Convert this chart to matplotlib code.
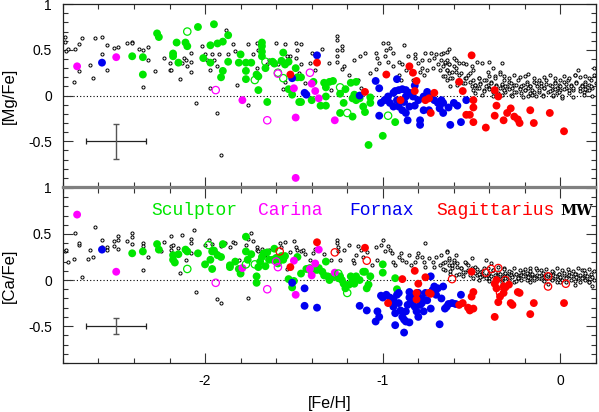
import matplotlib
matplotlib.use('Agg')
import matplotlib.pyplot as plt
from matplotlib.ticker import MultipleLocator, FixedLocator, FixedFormatter

plt.rcParams['font.family'] = ['Liberation Sans', 'DejaVu Sans']
plt.rcParams['axes.unicode_minus'] = False

# ---------------- [Mg/Fe] panel : ([Fe/H], [Mg/Fe]) ----------------
scl_mg = [(-2.27, 0.68), (-2.26, 0.64), (-2.41, 0.43), (-2.35, 0.42), (-2.35, 0.23), (-2.18, 0.46),
          (-2.18, 0.43), (-2.16, 0.58), (-2.11, 0.58), (-2.10, 0.54), (-2.15, 0.36), (-2.04, 0.75),
          (-1.95, 0.78), (-1.97, 0.55), (-1.93, 0.57), (-1.90, 0.59), (-1.87, 0.66), (-2.01, 0.41),
          (-1.97, 0.36), (-1.90, 0.27), (-1.91, 0.20), (-1.87, 0.37), (-1.80, 0.45), (-1.81, 0.36),
          (-1.77, 0.36), (-1.74, 0.36), (-1.77, 0.27), (-1.77, 0.18), (-1.71, 0.23), (-1.70, 0.21),
          (-1.68, 0.58), (-1.68, 0.54), (-1.68, 0.48), (-1.68, 0.43), (-1.66, 0.30), (-1.70, 0.06),
          (-1.65, -0.07), (-1.62, 0.37), (-1.61, 0.35), (-1.57, 0.38), (-1.56, 0.47), (-1.55, 0.34),
          (-1.53, 0.37), (-1.51, 0.01), (-1.53, 0.07), (-1.49, 0.30), (-1.48, 0.20), (-1.47, -0.07),
          (-1.46, 0.20), (-1.39, 0.15), (-1.46, -0.07), (-1.40, -0.05), (-1.35, -0.11), (-1.32, -0.11),
          (-1.32, -0.01), (-1.33, 0.14), (-1.30, 0.15), (-1.28, 0.16), (-1.32, 0.09), (-1.24, 0.02),
          (-1.22, -0.08), (-1.21, 0.07), (-1.18, 0.14), (-1.15, 0.15), (-1.16, 0.01), (-1.17, -0.03),
          (-1.15, -0.05), (-1.13, -0.03), (-1.11, -0.12), (-1.10, -0.18), (-1.07, -0.02), (-1.07, -0.08),
          (-1.24, -0.19), (-1.17, -0.23), (-1.08, -0.54), (-1.00, -0.44), (-0.93, -0.29)]
scl_mg_open = [(-2.10, 0.70), (-1.66, 0.37), (-1.72, 0.17), (-1.56, 0.19), (-1.59, 0.25),
               (-1.24, 0.09), (-1.20, -0.19), (-0.97, -0.22)]
car_mg = [(-2.72, 0.32), (-2.50, 0.42), (-1.79, -0.05), (-1.50, 0.08), (-1.49, -0.24), (-1.49, -0.90),
          (-1.40, 0.13), (-1.38, 0.05), (-1.36, -0.03), (-1.27, -0.27)]
car_mg_open = [(-1.94, 0.06), (-1.65, -0.27), (-1.59, 0.24), (-1.41, 0.25)]
fnx_mg = [(-2.58, 0.36), (-1.51, 0.19), (-1.37, 0.44), (-1.44, 0.03), (-1.43, 0.01), (-1.13, 0.00),
          (-1.04, 0.16), (-1.02, 0.08), (-0.92, 0.18), (-1.02, -0.22), (-1.01, -0.08), (-0.99, -0.05),
          (-0.97, -0.01), (-0.94, 0.03), (-0.93, 0.05), (-0.91, 0.06), (-0.89, 0.07), (-0.87, 0.06),
          (-0.85, 0.03), (-0.83, -0.01), (-0.82, 0.11), (-0.80, -0.05), (-0.92, -0.05), (-0.91, -0.12),
          (-0.89, -0.16), (-0.87, -0.19), (-0.86, -0.27), (-0.85, -0.12), (-0.82, -0.11), (-0.79, -0.27),
          (-0.79, -0.32), (-0.77, -0.16), (-0.77, -0.01), (-0.75, 0.04), (-0.73, -0.01), (-0.71, -0.05),
          (-0.69, -0.08), (-0.67, -0.05), (-0.66, -0.08), (-0.68, -0.14), (-0.66, -0.19), (-0.63, -0.13),
          (-0.62, -0.32), (-0.60, -0.08), (-0.58, -0.11), (-0.56, -0.29), (-0.53, -0.05), (-0.74, -0.16),
          (-0.94, -0.12), (-0.96, -0.08), (-0.88, -0.07), (-0.87, -0.01)]
sgr_mg = [(-1.52, 0.23), (-1.37, 0.36), (-1.10, 0.04), (-0.98, 0.23), (-0.90, -0.05), (-0.85, 0.32),
          (-0.83, 0.25), (-0.81, 0.16), (-0.82, 0.05), (-0.76, -0.05), (-0.74, -0.03), (-0.73, -0.19),
          (-0.71, 0.03), (-0.57, 0.15), (-0.55, 0.05), (-0.50, 0.44), (-0.53, -0.21), (-0.51, -0.21),
          (-0.49, -0.29), (-0.49, -0.05), (-0.49, -0.13), (-0.42, -0.35), (-0.37, 0.06), (-0.35, -0.01),
          (-0.36, -0.11), (-0.37, -0.22), (-0.32, -0.27), (-0.30, -0.19), (-0.28, -0.14), (-0.26, -0.23),
          (-0.24, -0.26), (-0.23, -0.30), (-0.17, -0.16), (-0.15, -0.30), (-0.06, -0.19), (0.02, -0.39)]
mw_mg = [(-2.79, 0.64), (-2.79, 0.59), (-2.78, 0.49), (-2.77, 0.51), (-2.73, 0.51), (-2.71, 0.27),
         (-2.74, 0.15), (-2.71, 0.56), (-2.69, 0.63), (-2.65, 0.33), (-2.63, 0.19), (-2.62, 0.63),
         (-2.58, 0.64), (-2.58, 0.46), (-2.55, 0.55), (-2.55, 0.28), (-2.51, 0.52), (-2.49, 0.53),
         (-2.44, 0.58), (-2.41, 0.59), (-2.41, 0.57), (-2.37, 0.51), (-2.35, 0.50), (-2.35, 0.09),
         (-2.32, 0.53), (-2.32, 0.39), (-2.28, 0.27), (-2.23, 0.41), (-2.20, 0.36), (-2.20, 0.28),
         (-2.19, 0.28), (-2.17, 0.58), (-2.14, 0.18), (-2.13, 0.36), (-2.12, 0.41), (-2.11, 0.39),
         (-2.10, 0.32), (-2.08, 0.26), (-2.08, 0.37), (-2.08, 0.47), (-2.05, -0.08), (-2.02, 0.54),
         (-2.00, 0.46), (-1.99, 0.39), (-1.96, 0.46), (-1.97, 0.28), (-1.97, 0.08), (-1.95, 0.39),
         (-1.93, 0.32), (-1.93, -0.19), (-1.91, -0.65), (-1.92, 0.46), (-1.88, 0.72), (-1.87, 0.45),
         (-1.84, 0.56), (-1.83, 0.49), (-1.82, 0.12), (-1.76, -0.10), (-1.76, 0.56), (-1.73, 0.45),
         (-1.71, 0.58), (-1.71, 0.30), (-1.70, 0.50), (-1.65, 0.34), (-1.64, 0.39), (-1.60, 0.58),
         (-1.59, 0.34), (-1.56, 0.07), (-1.55, 0.56), (-1.52, 0.43), (-1.49, 0.58), (-1.49, 0.41),
         (-1.48, 0.50), (-1.47, 0.25), (-1.55, 0.15), (-1.54, 0.43),
         (-1.46, 0.56), (-1.46, 0.34), (-1.44, 0.14), (-1.41, 0.36), (-1.40, 0.47), (-1.38, 0.28),
         (-1.34, 0.51), (-1.30, 0.36), (-1.29, 0.06), (-1.26, 0.65), (-1.26, 0.61), (-1.26, 0.50),
         (-1.26, 0.43), (-1.26, 0.37), (-1.23, 0.54), (-1.23, 0.50), (-1.23, 0.29), (-1.22, 0.32),
         (-1.19, 0.23), (-1.16, 0.39), (-1.14, 0.17), (-1.13, 0.43), (-1.12, 0.08), (-1.10, 0.47),
         (-1.07, 0.25), (-1.04, 0.47), (-1.04, 0.29), (-1.03, 0.41), (-1.02, 0.36), (-1.00, 0.58),
         (-0.99, 0.43), (-0.98, 0.50), (-0.97, 0.57), (-0.97, 0.37), (-0.96, 0.52), (-0.94, 0.47),
         (-0.94, 0.32), (-0.91, 0.37), (-0.91, 0.23), (-0.90, 0.17), (-0.89, 0.34), (-0.88, 0.55),
         (-0.87, 0.28), (-0.86, 0.43), (-0.85, 0.32), (-0.84, 0.25), (-0.83, 0.17), (-0.82, 0.41),
         (-0.82, 0.45), (-0.80, 0.36), (-0.79, 0.26), (-0.78, 0.39), (-0.78, 0.30), (-0.77, 0.23),
         (-0.76, 0.47), (-0.75, 0.28), (-0.74, 0.39), (-0.73, 0.47), (-0.72, 0.30), (-0.71, 0.41),
         (-0.70, 0.45), (-0.69, 0.34), (-0.68, 0.28), (-0.67, 0.39), (-0.66, 0.21), (-0.66, 0.47),
         (-0.65, 0.36), (-0.64, 0.48), (-0.64, 0.28), (-0.64, 0.17), (-0.63, 0.51), (-0.63, 0.34),
         (-0.63, 0.25), (-0.62, 0.10), (-0.61, 0.19), (-0.60, 0.32), (-0.59, 0.39), (-0.59, 0.26),
         (-0.58, 0.15), (-0.57, 0.36), (-0.56, 0.25), (-0.55, 0.14), (-0.54, 0.19), (-0.53, 0.34),
         (-0.52, 0.23), (-0.51, 0.15), (-0.50, 0.10), (-0.49, 0.17), (-0.49, 0.28), (-0.48, 0.03),
         (-0.48, 0.12), (-0.47, 0.37), (-0.47, 0.08), (-0.46, 0.19), (-0.45, 0.14), (-0.44, 0.36),
         (-0.43, 0.06), (-0.42, 0.17), (-0.41, 0.26), (-0.41, 0.12), (-0.40, 0.37), (-0.40, 0.08),
         (-0.39, 0.15), (-0.38, 0.04), (-0.38, 0.30), (-0.37, 0.21), (-0.36, 0.12), (-0.35, 0.03),
         (-0.34, 0.26), (-0.33, 0.36), (-0.33, 0.12), (-0.32, 0.06), (-0.32, 0.17), (-0.31, 0.04),
         (-0.30, 0.10), (-0.29, 0.15), (-0.28, 0.01), (-0.27, 0.08), (-0.26, 0.12), (-0.25, 0.04),
         (-0.24, 0.17), (-0.23, 0.08), (-0.22, 0.03), (-0.21, 0.12), (-0.20, 0.06), (-0.19, 0.15),
         (-0.18, -0.01), (-0.17, 0.10), (-0.17, 0.03), (-0.16, 0.06), (-0.15, 0.15), (-0.14, -0.01),
         (-0.13, 0.10), (-0.12, 0.04), (-0.11, 0.14), (-0.10, 0.01), (-0.09, 0.08), (-0.08, 0.17),
         (-0.07, 0.04), (-0.06, 0.12), (-0.05, 0.06), (-0.04, -0.01), (-0.03, 0.15), (-0.02, 0.08),
         (-0.02, 0.03), (-0.01, 0.12), (0.00, 0.06), (0.01, -0.03), (0.02, 0.15), (0.03, 0.08),
         (0.04, 0.17), (0.05, 0.03), (0.06, 0.12), (0.07, 0.06), (0.08, 0.23), (0.09, 0.15),
         (0.10, 0.28), (0.11, 0.08), (0.12, 0.12), (0.13, 0.04), (0.14, 0.15), (0.14, 0.10),
         (0.15, 0.06), (0.16, 0.12), (0.17, 0.17), (0.18, 0.08), (0.19, 0.30), (0.20, 0.14),
         # denser band of disc stars around solar metallicity
         (-0.46, 0.19), (-0.43, 0.17), (-0.40, 0.21), (-0.37, 0.19), (-0.34, 0.24), (-0.32, 0.21),
         (-0.29, 0.19), (-0.26, 0.22), (-0.23, 0.20), (-0.20, 0.21), (-0.18, 0.24), (-0.15, 0.19),
         (-0.12, 0.17), (-0.09, 0.20), (-0.06, 0.22), (-0.03, 0.19), (0.00, 0.17), (0.02, 0.21),
         (0.05, 0.19), (0.08, 0.22), (0.11, 0.20), (0.14, 0.21), (0.16, 0.19), (0.19, 0.22),
         (-0.48, 0.12), (-0.45, 0.13), (-0.42, 0.10), (-0.39, 0.14), (-0.36, 0.11), (-0.33, 0.13),
         (-0.31, 0.10), (-0.28, 0.14), (-0.25, 0.12), (-0.22, 0.10), (-0.19, 0.13), (-0.17, 0.11),
         (-0.14, 0.14), (-0.11, 0.10), (-0.08, 0.13), (-0.05, 0.11), (-0.03, 0.14), (0.00, 0.10),
         (0.03, 0.13), (0.06, 0.11), (0.09, 0.14), (0.12, 0.10), (0.14, 0.13), (0.17, 0.11),
         (-0.49, 0.06), (-0.46, 0.08), (-0.43, 0.05), (-0.40, 0.07), (-0.37, 0.04), (-0.34, 0.08),
         (-0.32, 0.06), (-0.29, 0.07), (-0.26, 0.04), (-0.23, 0.07), (-0.20, 0.06), (-0.18, 0.08),
         (-0.15, 0.04), (-0.12, 0.06), (-0.09, 0.08), (-0.06, 0.05), (-0.03, 0.07), (-0.01, 0.04),
         (0.02, 0.07), (0.05, 0.06), (0.07, 0.08), (0.11, 0.05), (0.14, 0.07), (0.16, 0.06),
         (-0.44, 0.01), (-0.38, -0.01), (-0.33, 0.01), (-0.27, 0.00), (-0.21, -0.02), (-0.16, 0.01),
         (-0.10, -0.01), (-0.04, 0.01), (0.01, 0.00), (0.07, -0.02), (0.13, 0.01), (0.18, -0.01),
         (-0.67, 0.45), (-0.65, 0.37), (-0.64, 0.39), (-0.66, 0.32), (-0.64, 0.28), (-0.63, 0.34),
         (-0.61, 0.26), (-0.59, 0.30), (-0.60, 0.41), (-0.57, 0.23), (-0.55, 0.36), (-0.53, 0.19),
         (-0.51, 0.25), (-0.54, 0.14), (-0.62, 0.19), (-0.65, 0.21), (-0.58, 0.12), (-0.50, 0.32)]

# ---------------- [Ca/Fe] panel : ([Fe/H], [Ca/Fe]) ----------------
scl_ca = [(-2.41, 0.29), (-2.35, 0.31), (-2.27, 0.39), (-2.26, 0.33), (-2.18, 0.27), (-2.18, 0.22),
          (-2.17, 0.19), (-2.15, 0.28), (-2.11, 0.33), (-2.10, 0.31), (-2.04, 0.29), (-2.00, 0.17),
          (-1.97, 0.22), (-1.96, 0.12), (-1.96, 0.31), (-1.95, 0.32), (-1.93, 0.27), (-1.91, 0.25),
          (-1.90, 0.39), (-1.86, 0.14), (-1.86, 0.16), (-1.83, 0.20), (-1.81, 0.12), (-1.80, 0.07),
          (-1.77, 0.47), (-1.77, 0.31), (-1.76, 0.22), (-1.74, 0.28), (-1.71, 0.04), (-1.71, -0.03),
          (-1.70, 0.14), (-1.69, 0.20), (-1.68, 0.25), (-1.67, 0.29), (-1.66, 0.15), (-1.65, 0.30),
          (-1.64, 0.22), (-1.62, 0.22), (-1.61, 0.34), (-1.60, 0.24), (-1.59, 0.18), (-1.57, 0.26),
          (-1.56, 0.22), (-1.55, 0.26), (-1.53, 0.01), (-1.51, -0.08), (-1.50, -0.01), (-1.48, 0.25),
          (-1.46, 0.07), (-1.43, 0.12), (-1.41, 0.13), (-1.40, 0.08), (-1.37, 0.11), (-1.36, 0.13),
          (-1.34, 0.09), (-1.33, 0.05), (-1.32, 0.20), (-1.31, 0.04), (-1.30, 0.00), (-1.28, 0.04),
          (-1.27, 0.07), (-1.25, 0.02), (-1.24, 0.04), (-1.23, 0.00), (-1.22, -0.04), (-1.21, -0.09),
          (-1.19, -0.05), (-1.18, 0.04), (-1.17, 0.00), (-1.16, -0.04), (-1.15, 0.04), (-1.13, 0.00),
          (-1.11, 0.09), (-1.10, 0.09), (-1.09, -0.09), (-1.08, -0.05), (-1.07, 0.04), (-1.00, 0.17),
          (-1.00, 0.08), (-0.93, 0.02), (-0.92, -0.10)]
scl_ca_open = [(-2.10, 0.12), (-1.98, 0.38), (-1.77, 0.17), (-1.72, 0.17), (-1.20, -0.14), (-1.25, 0.07)]
car_ca = [(-2.72, 0.71), (-2.50, 0.09), (-1.79, 0.13), (-1.50, 0.21), (-1.49, -0.16), (-1.41, 0.12),
          (-1.40, 0.05), (-1.38, 0.18), (-1.36, 0.33), (-1.27, 0.08)]
car_ca_open = [(-1.94, -0.03), (-1.65, -0.10), (-1.60, 0.20), (-1.59, 0.14)]
fnx_ca = [(-2.58, 0.33), (-1.51, -0.03), (-1.44, -0.09), (-1.44, -0.28), (-1.37, -0.30), (-1.13, -0.28),
          (-1.09, -0.33), (-1.03, -0.34), (-1.02, -0.40), (-1.04, -0.45), (-1.01, -0.17), (-1.00, -0.19),
          (-0.98, -0.16), (-0.96, -0.19), (-0.95, -0.25), (-0.94, -0.29), (-0.94, -0.21), (-0.93, -0.36),
          (-0.92, -0.16), (-0.91, -0.25), (-0.90, -0.33), (-0.89, -0.40), (-0.88, -0.43), (-0.87, -0.34),
          (-0.86, -0.27), (-0.85, -0.19), (-0.84, -0.24), (-0.83, -0.16), (-0.82, -0.29), (-0.81, -0.34),
          (-0.80, -0.40), (-0.79, -0.27), (-0.78, -0.20), (-0.78, -0.25), (-0.77, -0.34), (-0.76, -0.14),
          (-0.75, -0.22), (-0.73, -0.31), (-0.72, -0.11), (-0.71, -0.07), (-0.70, -0.16), (-0.69, -0.09),
          (-0.68, -0.48), (-0.67, -0.20), (-0.66, -0.07), (-0.65, -0.31), (-0.64, -0.29), (-0.63, -0.26),
          (-0.61, -0.25), (-0.59, -0.26), (-0.56, -0.16), (-0.93, -0.49), (-0.88, -0.57), (-0.87, -0.45),
          (-0.85, -0.46), (-0.73, 0.04), (-0.91, -0.14), (-0.85, -0.13), (-0.80, -0.14)]
sgr_ca = [(-1.52, 0.14), (-1.37, 0.41), (-1.10, 0.35), (-0.97, -0.25), (-0.89, 0.01), (-0.82, 0.10),
          (-0.81, -0.14), (-0.80, -0.04), (-0.81, -0.21), (-0.76, 0.03), (-0.74, -0.14), (-0.73, -0.15),
          (-0.55, -0.25), (-0.52, -0.30), (-0.51, -0.33), (-0.50, -0.18), (-0.49, -0.13), (-0.49, -0.31),
          (-0.50, 0.09), (-0.57, -0.27), (-0.37, -0.04), (-0.37, -0.40), (-0.36, 0.00), (-0.35, -0.24),
          (-0.34, -0.18), (-0.32, -0.07), (-0.32, -0.14), (-0.31, -0.08), (-0.29, -0.05), (-0.28, -0.25),
          (-0.27, -0.27), (-0.24, -0.13), (-0.23, -0.14), (-0.17, -0.37), (-0.15, -0.25), (0.02, -0.25),
          (-0.36, -0.09)]
sgr_ca_open = [(-1.58, 0.31), (-1.27, 0.30), (-1.09, 0.21), (-0.61, 0.01), (-0.42, 0.08), (-0.39, 0.12),
               (-0.35, 0.13), (-0.31, 0.00), (-0.34, -0.14), (-0.07, 0.04), (-0.07, -0.07), (0.03, -0.04)]
mw_ca = [(-2.79, 0.32), (-2.78, 0.33), (-2.77, 0.20), (-2.74, 0.23), (-2.73, 0.51), (-2.71, 0.38),
         (-2.71, 0.40), (-2.69, 0.03), (-2.66, 0.23), (-2.65, 0.33), (-2.63, 0.25), (-2.62, 0.58),
         (-2.58, 0.43), (-2.58, 0.36), (-2.55, 0.36), (-2.55, 0.33), (-2.51, 0.42), (-2.51, 0.37),
         (-2.49, 0.48), (-2.49, 0.43), (-2.49, 0.34), (-2.44, 0.42), (-2.41, 0.51), (-2.41, 0.47),
         (-2.41, 0.39), (-2.35, 0.40), (-2.35, 0.37), (-2.35, 0.11), (-2.32, 0.25), (-2.25, 0.32),
         (-2.23, 0.41), (-2.19, 0.48), (-2.19, 0.37), (-2.19, 0.33), (-2.18, 0.38), (-2.15, 0.35),
         (-2.14, 0.08), (-2.13, 0.49), (-2.11, 0.22), (-2.10, 0.33), (-2.08, 0.45), (-2.08, 0.29),
         (-2.08, 0.40), (-2.06, 0.54), (-2.05, -0.13), (-2.00, 0.38), (-1.98, 0.43), (-1.96, 0.39),
         (-1.95, 0.33), (-1.94, 0.30), (-1.93, -0.21), (-1.91, -0.25), (-1.91, 0.37), (-1.89, 0.40),
         (-1.86, 0.36), (-1.84, 0.41), (-1.83, 0.40), (-1.81, 0.22), (-1.77, 0.38), (-1.76, -0.19),
         (-1.76, 0.44), (-1.74, 0.51), (-1.73, 0.42), (-1.71, 0.36), (-1.71, 0.33), (-1.70, 0.31),
         (-1.68, 0.34), (-1.66, 0.27), (-1.64, 0.33), (-1.61, 0.24), (-1.58, 0.40), (-1.57, 0.36),
         (-1.55, 0.41), (-1.54, 0.12), (-1.52, 0.30), (-1.50, 0.42), (-1.49, 0.36), (-1.48, 0.33),
         (-1.46, 0.31), (-1.45, 0.33), (-1.44, 0.28), (-1.41, 0.22), (-1.39, 0.29), (-1.38, 0.34),
         (-1.33, 0.28), (-1.29, 0.22), (-1.26, 0.43), (-1.26, 0.40), (-1.25, 0.36), (-1.25, 0.31),
         (-1.24, 0.22), (-1.22, 0.33), (-1.19, 0.38), (-1.17, 0.22), (-1.16, 0.18), (-1.15, 0.27),
         (-1.14, 0.37), (-1.12, 0.33), (-1.11, 0.25), (-1.09, 0.30), (-1.06, 0.16), (-1.04, 0.36),
         (-1.03, 0.22), (-1.01, 0.38), (-1.00, 0.43), (-0.99, 0.31), (-0.97, 0.37), (-0.96, 0.33),
         (-0.95, 0.29), (-0.94, 0.20), (-0.93, 0.16), (-0.91, 0.25), (-0.90, 0.29), (-0.89, 0.22),
         (-0.87, 0.20), (-0.85, 0.27), (-0.84, 0.16), (-0.82, 0.20), (-0.81, 0.25), (-0.80, 0.29),
         (-0.78, 0.25), (-0.77, 0.20), (-0.76, 0.40), (-0.76, 0.14), (-0.74, 0.24), (-0.72, 0.20),
         (-0.71, 0.14), (-0.70, 0.25), (-0.68, 0.16), (-0.66, 0.18), (-0.65, 0.11), (-0.64, 0.32),
         (-0.63, 0.22), (-0.63, 0.16), (-0.62, 0.07), (-0.61, 0.13), (-0.60, 0.20), (-0.59, 0.05),
         (-0.58, 0.14), (-0.57, 0.07), (-0.56, 0.13), (-0.55, 0.04), (-0.54, 0.09), (-0.53, 0.18),
         (-0.52, 0.11), (-0.51, 0.05), (-0.50, 0.13), (-0.49, 0.02), (-0.48, 0.08), (-0.48, 0.14),
         (-0.47, 0.05), (-0.46, 0.00), (-0.45, 0.09), (-0.44, 0.04), (-0.43, 0.13), (-0.42, 0.22),
         (-0.41, 0.05), (-0.40, 0.02), (-0.39, 0.18), (-0.38, 0.11), (-0.37, 0.00), (-0.36, 0.05),
         (-0.35, 0.09), (-0.34, 0.04), (-0.33, 0.00), (-0.32, 0.13), (-0.32, 0.07), (-0.31, 0.02),
         (-0.30, 0.05), (-0.29, 0.00), (-0.28, 0.09), (-0.27, 0.04), (-0.26, -0.02), (-0.25, 0.07),
         (-0.24, 0.02), (-0.23, 0.05), (-0.22, 0.00), (-0.21, 0.09), (-0.20, 0.04), (-0.19, 0.00),
         (-0.18, 0.07), (-0.17, 0.02), (-0.17, 0.13), (-0.16, 0.05), (-0.15, 0.00), (-0.14, 0.04),
         (-0.13, 0.11), (-0.12, 0.02), (-0.11, 0.05), (-0.10, 0.00), (-0.09, 0.07), (-0.08, 0.02),
         (-0.07, -0.04), (-0.06, 0.05), (-0.05, 0.00), (-0.04, 0.09), (-0.03, 0.02), (-0.02, 0.04),
         (-0.02, -0.02), (-0.01, 0.07), (0.00, 0.02), (0.01, 0.00), (0.02, 0.05), (0.03, -0.02),
         (0.04, 0.04), (0.05, 0.09), (0.06, 0.00), (0.07, 0.04), (0.08, -0.05), (0.09, 0.07),
         (0.10, 0.02), (0.11, -0.02), (0.12, 0.11), (0.13, 0.04), (0.14, 0.00), (0.14, 0.05),
         (0.15, 0.02), (0.16, -0.02), (0.17, 0.04), (0.18, -0.07), (0.19, 0.00),
         # denser band of disc stars around solar metallicity
         (-0.67, 0.27), (-0.65, 0.20), (-0.63, 0.24), (-0.61, 0.16), (-0.60, 0.22), (-0.58, 0.18),
         (-0.56, 0.13), (-0.54, 0.20), (-0.52, 0.16), (-0.66, 0.12), (-0.62, 0.10), (-0.55, 0.09),
         (-0.50, 0.24), (-0.64, 0.30), (-0.59, 0.27),
         (-0.47, 0.12), (-0.44, 0.10), (-0.41, 0.13), (-0.38, 0.11), (-0.35, 0.14), (-0.32, 0.12),
         (-0.29, 0.10), (-0.26, 0.13), (-0.23, 0.11), (-0.20, 0.12), (-0.17, 0.10), (-0.14, 0.13),
         (-0.11, 0.11), (-0.08, 0.12), (-0.05, 0.10), (-0.02, 0.13), (0.01, 0.11), (0.04, 0.12),
         (0.07, 0.10), (0.10, 0.13), (0.13, 0.11), (0.16, 0.12), (0.19, 0.10),
         (-0.46, 0.07), (-0.43, 0.06), (-0.40, 0.08), (-0.37, 0.06), (-0.34, 0.07), (-0.31, 0.08),
         (-0.28, 0.06), (-0.25, 0.07), (-0.22, 0.06), (-0.19, 0.08), (-0.16, 0.07), (-0.13, 0.06),
         (-0.10, 0.08), (-0.07, 0.07), (-0.04, 0.06), (-0.01, 0.07), (0.02, 0.08), (0.05, 0.06),
         (0.08, 0.07), (0.11, 0.06), (0.14, 0.08), (0.17, 0.07),
         (-0.45, 0.03), (-0.42, 0.02), (-0.39, 0.04), (-0.36, 0.03), (-0.33, 0.02), (-0.30, 0.04),
         (-0.27, 0.03), (-0.24, 0.02), (-0.21, 0.04), (-0.18, 0.03), (-0.15, 0.02), (-0.12, 0.04),
         (-0.09, 0.03), (-0.06, 0.02), (-0.03, 0.04), (0.00, 0.03), (0.03, 0.02), (0.06, 0.04),
         (0.09, 0.03), (0.12, 0.02), (0.15, 0.04), (0.18, 0.03),
         (-0.40, -0.01), (-0.33, -0.02), (-0.25, -0.01), (-0.17, -0.02), (-0.09, -0.01), (0.00, -0.02),
         (0.08, -0.01), (0.16, -0.02)]

# typical errors drawn in the lower left corner
err_pos = (-2.5, -0.5)
err_feh = 0.17
err_mg = 0.19
err_ca = 0.09

labels = ['Sculptor', 'Carina', 'Fornax', 'Sagittarius', 'MW']
label_x = [-2.30, -1.70, -1.19, -0.70, 0.0]

GREEN = '#00e600'
MAGENTA = '#ff00ff'
BLUE = '#0000f0'
RED = '#ff0000'
colors = [GREEN, MAGENTA, BLUE, RED, 'black']


def unpack(pairs):
    return [p[0] for p in pairs], [p[1] for p in pairs]


def draw_panel(ax, mw, groups, open_groups, yerr):
    x, y = unpack(mw)
    ax.scatter(x, y, s=5, facecolors='white', edgecolors='black', linewidths=0.7, zorder=2)
    for pairs, col in groups:
        x, y = unpack(pairs)
        ax.scatter(x, y, s=32, color=col, edgecolors='none', zorder=3)
    for pairs, col in open_groups:
        x, y = unpack(pairs)
        ax.scatter(x, y, s=28, facecolors='none', edgecolors=col, linewidths=0.9, zorder=3)
    ax.axhline(0, color='black', ls=(0, (1, 2)), lw=0.8, zorder=1)
    ax.errorbar(err_pos[0], err_pos[1], xerr=err_feh, fmt='none', ecolor='#222222',
                elinewidth=0.9, capsize=2.5, capthick=0.9)
    ax.errorbar(err_pos[0], err_pos[1], yerr=yerr, fmt='none', ecolor='#555555',
                elinewidth=1.0, capsize=2.5, capthick=1.0)
    ax.set_xlim(-2.8, 0.2)
    ax.xaxis.set_major_locator(FixedLocator([-2, -1, 0]))
    ax.xaxis.set_minor_locator(MultipleLocator(0.2))
    ax.yaxis.set_major_locator(FixedLocator([-0.5, 0, 0.5, 1]))
    ax.yaxis.set_major_formatter(FixedFormatter(['-0.5', '0', '0.5', '1']))
    ax.yaxis.set_minor_locator(MultipleLocator(0.1))
    ax.tick_params(which='both', direction='in', top=True, right=True, labelsize=10, color='#333333')
    ax.tick_params(which='major', length=7, width=0.8)
    ax.tick_params(which='minor', length=3.5, width=0.8)
    ax.tick_params(axis='y', pad=8)
    ax.tick_params(axis='x', pad=8)
    for sp in ax.spines.values():
        sp.set_color('#222222')
        sp.set_linewidth(0.9)


fig = plt.figure(figsize=(5.99, 4.12), dpi=100)
ax1 = fig.add_axes([0.105, 0.546, 0.890, 0.444])
ax2 = fig.add_axes([0.105, 0.119, 0.890, 0.425])

draw_panel(ax1, mw_mg, [(scl_mg, GREEN), (car_mg, MAGENTA), (fnx_mg, BLUE), (sgr_mg, RED)],
           [(scl_mg_open, GREEN), (car_mg_open, MAGENTA)], err_mg)
draw_panel(ax2, mw_ca, [(scl_ca, GREEN), (car_ca, MAGENTA), (fnx_ca, BLUE), (sgr_ca, RED)],
           [(scl_ca_open, GREEN), (car_ca_open, MAGENTA), (sgr_ca_open, RED)], err_ca)

ax1.set_ylim(-1.0, 1.0)
ax2.set_ylim(-0.9, 1.0)
ax1.tick_params(axis='x', labelbottom=False)
ax1.spines['bottom'].set_color('#808080')
ax1.spines['bottom'].set_linewidth(1.6)
ax2.spines['top'].set_color('#808080')
ax2.spines['top'].set_linewidth(1.6)

ax1.set_ylabel('[Mg/Fe]', fontsize=12, labelpad=8)
ax2.set_ylabel('[Ca/Fe]', fontsize=12, labelpad=8)
ax2.set_xlabel('[Fe/H]', fontsize=11.5, labelpad=6)

for lab, lx, col in zip(labels, label_x, colors):
    if lab == 'MW':
        ax2.text(lx, 0.75, lab, color=col, fontsize=10.5, family='DejaVu Serif',
                 fontweight='bold', ha='left', va='center', zorder=4)
    else:
        ax2.text(lx, 0.75, lab, color=col, fontsize=13, family='Liberation Mono',
                 ha='left', va='center', zorder=4)

fig.savefig('out.png', dpi=100)
